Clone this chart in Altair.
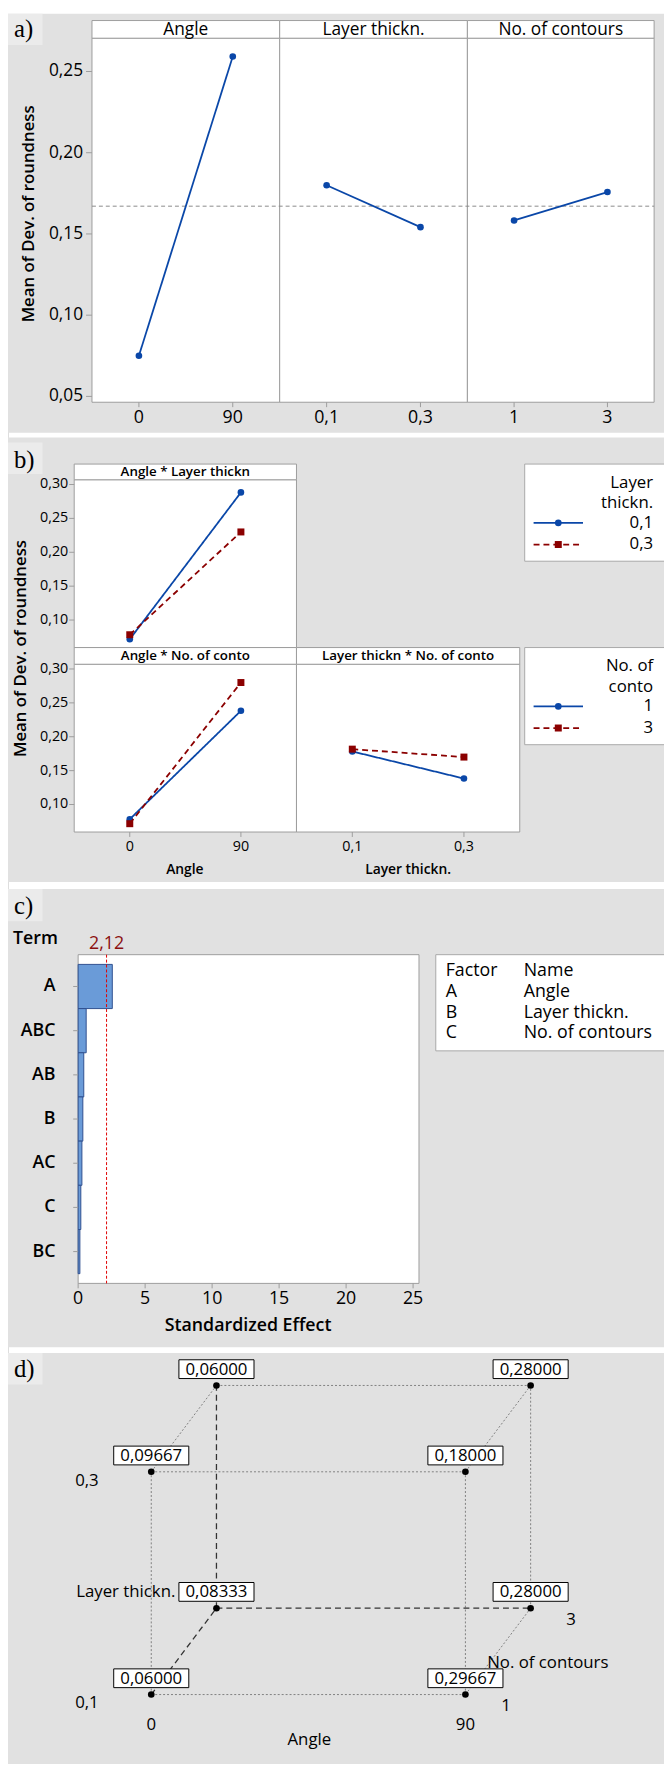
import altair as alt
import pandas as pd

# ---------------- data ----------------
main_factors = ["Angle", "Layer thickn.", "No. of contours"]
main_levels = [["0", "90"], ["0,1", "0,3"], ["1", "3"]]
main_means = [[0.0750, 0.2592], [0.1800, 0.1542], [0.1583, 0.1758]]
grand_mean = 0.1671
main_yticks = [0.05, 0.10, 0.15, 0.20, 0.25]

inter_titles = ["Angle * Layer thickn", "Angle * No. of conto", "Layer thickn * No. of conto"]
inter_x_levels = [["0", "90"], ["0", "90"], ["0,1", "0,3"]]
inter_means = [
    [[0.0717, 0.2883], [0.0783, 0.2300]],
    [[0.0783, 0.2383], [0.0717, 0.2800]],
    [[0.1783, 0.1383], [0.1817, 0.1700]],
]
inter_yticks = [0.10, 0.15, 0.20, 0.25, 0.30]
inter_x_titles = ["Angle", "Layer thickn."]
legend_titles = [["Layer", "thickn."], ["No. of", "conto"]]
legend_labels = [["0,1", "0,3"], ["1", "3"]]

terms = ["A", "ABC", "AB", "B", "AC", "C", "BC"]
std_effects = [2.55, 0.60, 0.42, 0.35, 0.28, 0.20, 0.13]
critical_effect = 2.12
effect_ticks = [0, 5, 10, 15, 20, 25]
factor_codes = ["A", "B", "C"]
factor_names = ["Angle", "Layer thickn.", "No. of contours"]

angle_levels = [0, 90]
layer_levels = ["0,1", "0,3"]
contour_levels = [1, 3]
cube_angle = [0, 90, 0, 90, 0, 90, 0, 90]
cube_layer = ["0,1", "0,1", "0,3", "0,3", "0,1", "0,1", "0,3", "0,3"]
cube_contours = [1, 1, 1, 1, 3, 3, 3, 3]
cube_values = [0.06000, 0.29667, 0.09667, 0.18000, 0.08333, 0.28000, 0.06000, 0.28000]

# ---------------- layout helpers ----------------
K = 1756 / 1768


def X(r):
    return round(r - 8, 2)


def Y(r):
    return round((r - 8) * K, 2)


GRAY = "#e1e1e1"
LIGHT = "#ebebeb"
FRAME = "#9c9c9c"
BLUE = "#0a47a8"
RED = "#8b0000"
FONT = "Open Sans"
SERIF = "Liberation Serif"
ONE = pd.DataFrame({"k": [0]})
COMMA2 = "replace(format(datum.v, '.2f'), '.', ',')"

layers = []


def rect(x1, x2, y1, y2, fill="white", stroke=None, sw=1):
    kw = dict(fill=fill, opacity=1)
    if stroke:
        kw.update(stroke=stroke, strokeWidth=sw)
    else:
        kw.update(strokeWidth=0)
    return alt.Chart(ONE).mark_rect(**kw).encode(
        x=alt.value(X(x1)), x2=alt.value(X(x2)), y=alt.value(Y(y1)), y2=alt.value(Y(y2)))


def text(s, x, y, size=17, weight="normal", align="center", font=FONT, color="black", angle=0):
    kw = dict(text=s, fontSize=size, fontWeight=weight, align=align, font=font,
              color=color, baseline="middle")
    if angle:
        kw["angle"] = angle
    return alt.Chart(ONE).mark_text(**kw).encode(x=alt.value(X(x)), y=alt.value(Y(y)))


# ======================= panel a =======================
EA = [93, 283, 473, 662]
A_TOP, A_STRIP, A_BOT = 10, 28, 399
ya = alt.Scale(domain=[0.0464, 0.2705], range=[Y(A_BOT), Y(A_STRIP)], nice=False, zero=False)

layers.append(rect(0, 700, 3, 430, GRAY))
layers.append(rect(0, 43, 3, 35, LIGHT))
layers.append(text("a)", 14, 19, size=25, font=SERIF, align="left"))
for i in range(3):
    layers.append(rect(EA[i], EA[i + 1], A_STRIP, A_BOT, "white", FRAME))
    layers.append(rect(EA[i], EA[i + 1], A_TOP, A_STRIP, "white", FRAME))
    layers.append(text(main_factors[i], (EA[i] + EA[i + 1]) / 2, 19.5, size=17.5))

layers.append(
    alt.Chart(pd.DataFrame({"m": [grand_mean]})).mark_rule(
        color="#8a8a8a", strokeDash=[4, 3], strokeWidth=1).encode(
        y=alt.Y("m:Q", scale=ya, axis=None), x=alt.value(X(93)), x2=alt.value(X(662))))

for i in range(3):
    df = pd.DataFrame({"level": main_levels[i], "mean": main_means[i]})
    xs = alt.Scale(type="point", domain=main_levels[i],
                   range=[X(EA[i]), X(EA[i + 1])], padding=0.5)
    base = alt.Chart(df).encode(x=alt.X("level:N", scale=xs, axis=None),
                                y=alt.Y("mean:Q", scale=ya, axis=None))
    layers.append(base.mark_line(color=BLUE, strokeWidth=1.8))
    layers.append(base.mark_circle(color=BLUE, size=45, opacity=1))
    layers.append(alt.Chart(df).mark_text(fontSize=18, font=FONT, baseline="middle").encode(
        x=alt.X("level:N", scale=xs, axis=None), y=alt.value(Y(415)), text="level:N"))
    layers.append(alt.Chart(df).mark_rule(color=FRAME).encode(
        x=alt.X("level:N", scale=xs, axis=None), y=alt.value(Y(A_BOT)), y2=alt.value(Y(404))))

dfa = pd.DataFrame({"v": main_yticks})
layers.append(alt.Chart(dfa).transform_calculate(lab=COMMA2).mark_text(
    fontSize=17.5, font=FONT, align="right", baseline="middle").encode(
    y=alt.Y("v:Q", scale=ya, axis=None), x=alt.value(X(84)), text="lab:N"))
layers.append(alt.Chart(dfa).mark_rule(color=FRAME).encode(
    y=alt.Y("v:Q", scale=ya, axis=None), x=alt.value(X(87)), x2=alt.value(X(93))))
layers.append(text("Mean of Dev. of roundness", 29, 207, size=17, weight=600, angle=270))

# ======================= panel b =======================
layers.append(rect(0, 700, 435, 888, GRAY))
layers.append(rect(0, 43, 440, 472, LIGHT))
layers.append(text("b)", 14, 458, size=25, font=SERIF, align="left"))

ROWS = [(462, 478, 649), (649, 666, 837)]
yb = [alt.Scale(domain=[0.0594, 0.307], range=[Y(r[2]), Y(r[1])], nice=False, zero=False)
      for r in ROWS]
PANELS_B = [(0, 0, 75, 300), (1, 1, 75, 300), (2, 1, 300, 526)]

for p, row, xl, xr in PANELS_B:
    st, sb, pb = ROWS[row]
    layers.append(rect(xl, xr, sb, pb, "white", FRAME))
    layers.append(rect(xl, xr, st, sb, "white", FRAME))
    layers.append(text(inter_titles[p], (xl + xr) / 2, (st + sb) / 2 + 0.5, size=13.5, weight=600))

for row in range(2):
    st, sb, pb = ROWS[row]
    dft = pd.DataFrame({"v": inter_yticks})
    layers.append(alt.Chart(dft).transform_calculate(lab=COMMA2).mark_text(
        fontSize=14.5, font=FONT, align="right", baseline="middle").encode(
        y=alt.Y("v:Q", scale=yb[row], axis=None), x=alt.value(X(69)), text="lab:N"))
    layers.append(alt.Chart(dft).mark_rule(color=FRAME).encode(
        y=alt.Y("v:Q", scale=yb[row], axis=None), x=alt.value(X(70)), x2=alt.value(X(75))))

SERIES_STYLE = [dict(color=BLUE, dash=[1, 0], shape="circle", size=45),
                dict(color=RED, dash=[6, 4], shape="square", size=50)]

for p, row, xl, xr in PANELS_B:
    xs = alt.Scale(type="point", domain=inter_x_levels[p], range=[X(xl), X(xr)], padding=0.5)
    for s in range(2):
        stl = SERIES_STYLE[s]
        df = pd.DataFrame({"level": inter_x_levels[p], "mean": inter_means[p][s]})
        base = alt.Chart(df).encode(x=alt.X("level:N", scale=xs, axis=None),
                                    y=alt.Y("mean:Q", scale=yb[row], axis=None))
        layers.append(base.mark_line(color=stl["color"], strokeWidth=1.8, strokeDash=stl["dash"]))
        layers.append(base.mark_point(shape=stl["shape"], filled=True, color=stl["color"],
                                      size=stl["size"], opacity=1))
    if row == 1:
        df = pd.DataFrame({"level": inter_x_levels[p]})
        layers.append(alt.Chart(df).mark_text(fontSize=14.5, font=FONT, baseline="middle").encode(
            x=alt.X("level:N", scale=xs, axis=None), y=alt.value(Y(852)), text="level:N"))
        layers.append(alt.Chart(df).mark_rule(color=FRAME).encode(
            x=alt.X("level:N", scale=xs, axis=None), y=alt.value(Y(837)), y2=alt.value(Y(842))))

layers.append(text(inter_x_titles[0], 187, 876, size=14, weight=600))
layers.append(text(inter_x_titles[1], 413, 876, size=14, weight=600))
layers.append(text("Mean of Dev. of roundness", 21, 650, size=17, weight=600, angle=270))

LEG = [(462, 561), (649, 748)]
for g in range(2):
    top, bot = LEG[g]
    layers.append(rect(531, 700, top, bot, "white", "#a8a8a8"))
    layers.append(text(legend_titles[g][0], 661, top + 19, size=17, align="right"))
    layers.append(text(legend_titles[g][1], 661, top + 40, size=17, align="right"))
    ly = alt.Scale(type="point", domain=legend_labels[g], range=[Y(top + 60), Y(top + 82)], padding=0)
    for s in range(2):
        stl = SERIES_STYLE[s]
        dfl = pd.DataFrame({"lab": [legend_labels[g][s]]})
        yenc = alt.Y("lab:N", scale=ly, axis=None)
        layers.append(alt.Chart(dfl).mark_rule(color=stl["color"], strokeWidth=1.8,
                                               strokeDash=stl["dash"]).encode(
            y=yenc, x=alt.value(X(540)), x2=alt.value(X(590))))
        layers.append(alt.Chart(dfl).mark_point(shape=stl["shape"], filled=True, color=stl["color"],
                                                size=stl["size"], opacity=1).encode(
            y=yenc, x=alt.value(X(565))))
        layers.append(alt.Chart(dfl).mark_text(fontSize=17, font=FONT, align="right",
                                               baseline="middle").encode(
            y=yenc, x=alt.value(X(661)), text="lab:N"))

# ======================= panel c =======================
layers.append(rect(0, 700, 895, 1362, GRAY))
layers.append(rect(0, 43, 895, 928, LIGHT))
layers.append(text("c)", 14, 912, size=25, font=SERIF, align="left"))

C_L, C_R, C_T, C_B = 79, 424, 962, 1297
xc = alt.Scale(domain=[0, 25.44], range=[X(C_L), X(C_R)], nice=False, zero=True)
yc = alt.Scale(type="band", domain=terms, range=[Y(C_T), Y(C_B)], paddingInner=0, paddingOuter=0.22)

layers.append(rect(C_L, C_R, C_T, C_B, "white", FRAME))
dfe = pd.DataFrame({"term": terms, "eff": std_effects})
layers.append(alt.Chart(dfe).mark_bar(fill="#6a9bd8", stroke="#2f4f8f", strokeWidth=1, opacity=1).encode(
    x=alt.X("eff:Q", scale=xc, axis=None), y=alt.Y("term:N", scale=yc, axis=None, sort=None)))
dfc = pd.DataFrame({"v": [critical_effect]})
layers.append(alt.Chart(dfc).mark_rule(color="#e00000", strokeDash=[3, 2], strokeWidth=1).encode(
    x=alt.X("v:Q", scale=xc, axis=None), y=alt.value(Y(C_T)), y2=alt.value(Y(C_B))))
layers.append(alt.Chart(dfc).transform_calculate(lab=COMMA2).mark_text(
    fontSize=18, font=FONT, color="#8b1010", baseline="middle").encode(
    x=alt.X("v:Q", scale=xc, axis=None), y=alt.value(Y(951)), text="lab:N"))
layers.append(alt.Chart(dfe).mark_text(fontSize=18, font=FONT, fontWeight=600, align="right",
                                       baseline="middle").encode(
    y=alt.Y("term:N", scale=yc, axis=None, bandPosition=0.5), x=alt.value(X(56)), text="term:N"))
layers.append(alt.Chart(dfe).mark_rule(color=FRAME).encode(
    y=alt.Y("term:N", scale=yc, axis=None, bandPosition=0.5), x=alt.value(X(74)), x2=alt.value(X(C_L))))
dfx = pd.DataFrame({"v": effect_ticks})
layers.append(alt.Chart(dfx).mark_text(fontSize=18, font=FONT, baseline="middle").encode(
    x=alt.X("v:Q", scale=xc, axis=None), y=alt.value(Y(1313)), text="v:N"))
layers.append(alt.Chart(dfx).mark_rule(color=FRAME).encode(
    x=alt.X("v:Q", scale=xc, axis=None), y=alt.value(Y(C_B)), y2=alt.value(Y(1302))))
layers.append(text("Term", 13, 946, size=18, weight=600, align="left"))
layers.append(text("Standardized Effect", 251, 1340, size=18, weight=600))

layers.append(rect(441, 700, 962, 1060, "white", "#a8a8a8"))
dft = pd.DataFrame({"code": ["Factor"] + factor_codes, "name": ["Name"] + factor_names})
ty = alt.Scale(type="point", domain=dft["code"].tolist(), range=[Y(979), Y(1042)], padding=0)
layers.append(alt.Chart(dft).mark_text(fontSize=18, font=FONT, align="left", baseline="middle").encode(
    y=alt.Y("code:N", scale=ty, axis=None), x=alt.value(X(451)), text="code:N"))
layers.append(alt.Chart(dft).mark_text(fontSize=18, font=FONT, align="left", baseline="middle").encode(
    y=alt.Y("code:N", scale=ty, axis=None), x=alt.value(X(530)), text="name:N"))

# ======================= panel d (cube) =======================
layers.append(rect(0, 700, 1368, 1790, GRAY))
layers.append(rect(0, 43, 1368, 1400, LIGHT))
layers.append(text("d)", 14, 1384, size=25, font=SERIF, align="left"))

DX, DY = 66 / 318, 88 / 227      # oblique projection of the depth axis
xd = alt.Scale(domain=[0, 1], range=[X(153), X(471)], nice=False, zero=False)
yd = alt.Scale(domain=[0, 1], range=[Y(1716), Y(1489)], nice=False, zero=False)

corners = pd.DataFrame({"angle": cube_angle, "layer": cube_layer,
                        "contours": cube_contours, "v": cube_values})
corners["ai"] = [angle_levels.index(a) for a in cube_angle]
corners["li"] = [layer_levels.index(l) for l in cube_layer]
corners["ci"] = [contour_levels.index(c) for c in cube_contours]
corners["px"] = corners["ai"] + DX * corners["ci"]
corners["py"] = corners["li"] + DY * corners["ci"]

edges = []
recs = corners.to_dict("records")
for i in range(8):
    for j in range(i + 1, 8):
        a, b = recs[i], recs[j]
        diff = int(a["ai"] != b["ai"]) + int(a["li"] != b["li"]) + int(a["ci"] != b["ci"])
        if diff == 1:
            hidden = any(c["ai"] == 0 and c["li"] == 0 and c["ci"] == 1 for c in (a, b))
            edges.append({"x1": a["px"], "y1": a["py"], "x2": b["px"], "y2": b["py"],
                          "hidden": bool(hidden)})
edges = pd.DataFrame(edges)

for hid, col, dash, sw in [(False, "#808080", [2, 2], 1), (True, "#333333", [6, 4], 1.3)]:
    layers.append(alt.Chart(edges[edges.hidden == hid]).mark_rule(
        color=col, strokeDash=dash, strokeWidth=sw).encode(
        x=alt.X("x1:Q", scale=xd, axis=None), x2="x2:Q",
        y=alt.Y("y1:Q", scale=yd, axis=None), y2="y2:Q"))

cenc = dict(x=alt.X("px:Q", scale=xd, axis=None), y=alt.Y("py:Q", scale=yd, axis=None))
layers.append(alt.Chart(corners).mark_circle(color="black", size=45, opacity=1).encode(**cenc))
BOX = "M-1,-0.25L1,-0.25L1,0.25L-1,0.25Z"
layers.append(alt.Chart(corners).mark_point(shape=BOX, size=76 * 76, filled=True, fill="white",
                                            stroke="black", strokeWidth=1, opacity=1,
                                            yOffset=-16.5).encode(**cenc))
layers.append(alt.Chart(corners).transform_calculate(
    lab="replace(format(datum.v, '.5f'), '.', ',')").mark_text(
    fontSize=17, font=FONT, baseline="middle", yOffset=-16).encode(text="lab:N", **cenc))

# cube axis labels
dl = pd.DataFrame({"lab": layer_levels, "py": [0, 1]})
layers.append(alt.Chart(dl).mark_text(fontSize=17, font=FONT, align="left", baseline="middle",
                                      yOffset=9).encode(
    y=alt.Y("py:Q", scale=yd, axis=None), x=alt.value(X(76)), text="lab:N"))
da = pd.DataFrame({"lab": [str(a) for a in angle_levels], "px": [0, 1]})
layers.append(alt.Chart(da).mark_text(fontSize=17, font=FONT, baseline="middle").encode(
    x=alt.X("px:Q", scale=xd, axis=None), y=alt.value(Y(1747)), text="lab:N"))
dc = pd.DataFrame({"lab": [str(c) for c in contour_levels],
                   "px": [1 + DX * i for i in range(2)], "py": [DY * i for i in range(2)]})
layers.append(alt.Chart(dc).mark_text(fontSize=17, font=FONT, baseline="middle",
                                      xOffset=41, yOffset=12).encode(
    x=alt.X("px:Q", scale=xd, axis=None), y=alt.Y("py:Q", scale=yd, axis=None), text="lab:N"))
layers.append(text(main_factors[0], 313, 1762, size=17))
layers.append(text(main_factors[1], 77, 1612, size=17, align="left"))
layers.append(text(main_factors[2], 493, 1684, size=17, align="left"))

chart = alt.layer(*layers).resolve_scale(x="independent", y="independent").properties(
    width=664, height=1756, autosize=alt.AutoSizeParams(type="none"), padding=0
).configure_view(stroke=None).configure(background="white")

chart.save("out.html", embed_options={"renderer": "svg", "actions": False})
